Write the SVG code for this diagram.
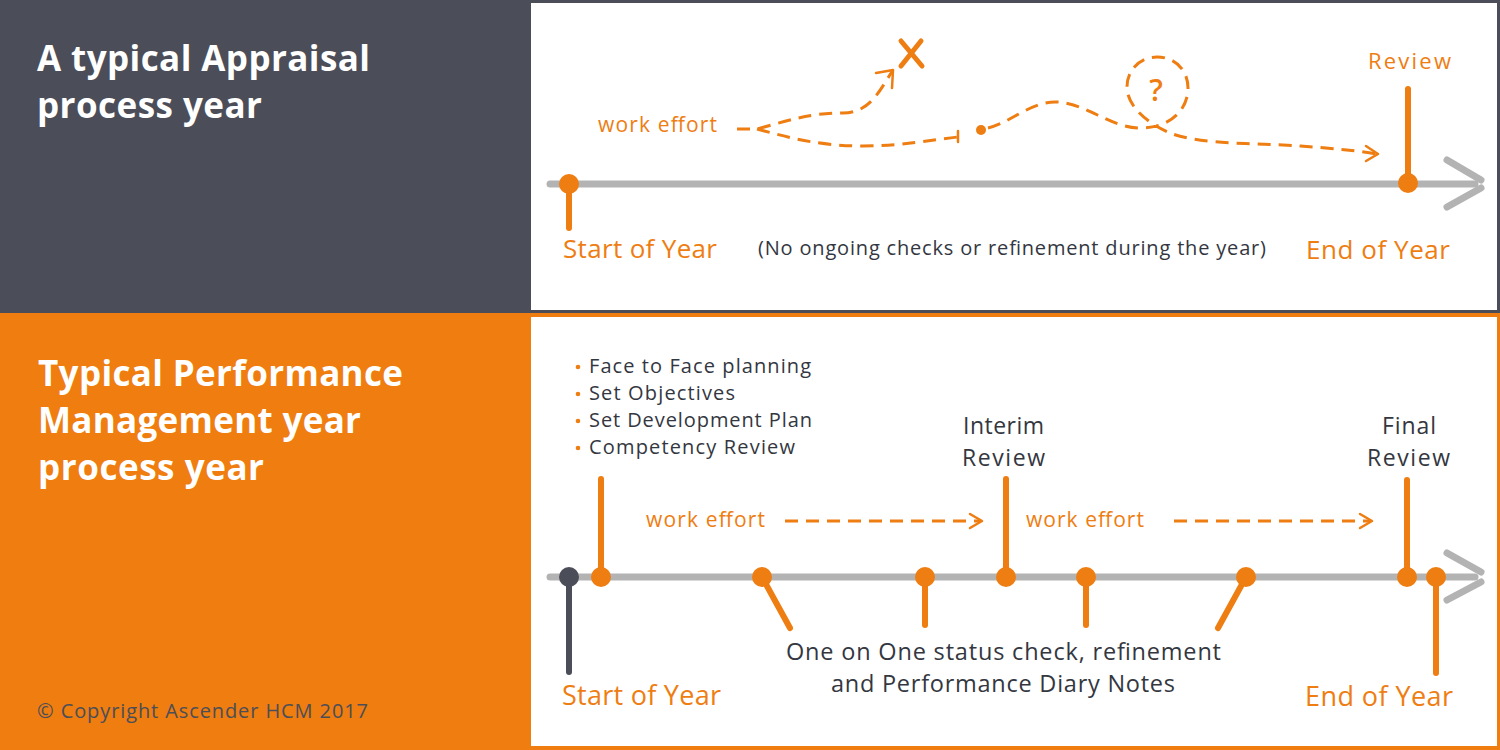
<svg xmlns="http://www.w3.org/2000/svg" width="1500" height="750" viewBox="0 0 1500 750">
<defs>
<style>
text{font-family:"Open Sans","Liberation Sans",sans-serif}
.title{font-weight:700;fill:#ffffff;font-size:35px}
.or{fill:#ee7d12}
.dk{fill:#34373f}
.axis{stroke:#b3b3b3;stroke-width:7;stroke-linecap:round;fill:none}
.stem{stroke:#ee7d12;stroke-width:6;stroke-linecap:round;fill:none}
.dash{stroke:#ee7d12;stroke-width:3;stroke-dasharray:13 8;fill:none;stroke-linecap:butt}
.head{stroke:#ee7d12;stroke-width:2.5;fill:none;stroke-linecap:round;stroke-linejoin:round}
.dot{fill:#ee7d12}
</style>
</defs>
<rect x="0" y="0" width="1500" height="313" fill="#4b4e58"/>
<rect x="0" y="313" width="1500" height="437" fill="#ef7d0f"/>
<rect x="531" y="3" width="966" height="307" fill="#ffffff"/>
<rect x="531" y="317" width="966" height="429" fill="#ffffff"/>

<g id="title-top">
<text class="title" x="37" y="71" textLength="333">A typical Appraisal</text>
<text class="title" x="37" y="118" textLength="225">process year</text>
</g>
<g id="title-bottom">
<text class="title" x="38" y="386" textLength="365">Typical Performance</text>
<text class="title" x="38" y="433" textLength="323">Management year</text>
<text class="title" x="38" y="480" textLength="226">process year</text>
</g>
<text x="37" y="718" font-size="20" fill="#4b4e58" textLength="331">© Copyright Ascender HCM 2017</text>

<!-- top timeline -->
<g id="top-axis">
<line class="axis" x1="550" y1="184" x2="1475" y2="184"/>
<polyline class="axis" points="1447,160 1481,180"/>
<polyline class="axis" points="1481,188 1447,207"/>
</g>
<g id="top-start">
<line class="stem" x1="569" y1="184" x2="569" y2="228"/>
<circle class="dot" cx="569" cy="184" r="10"/>
<text class="or" x="563" y="258" font-size="26" textLength="154">Start of Year</text>
</g>
<g id="top-end">
<line class="stem" x1="1408" y1="89" x2="1408" y2="184"/>
<circle class="dot" cx="1408" cy="183" r="10"/>
<text class="or" x="1368" y="69" font-size="22" textLength="83">Review</text>
<text class="or" x="1306" y="259" font-size="26" textLength="144">End of Year</text>
</g>
<text class="dk" x="758" y="255" font-size="20" textLength="508">(No ongoing checks or refinement during the year)</text>

<g id="top-connectors">
<text class="or" x="598" y="132" font-size="21" textLength="119">work effort</text>
<path class="dash" d="M737,129 L757,129 C790,120 810,113 843,113 C870,113 880,90 893,70"/>
<polyline class="head" points="876,73 893,70 892,88"/>
<path class="dash" d="M757,129 C790,138 820,146 863,146 C900,146 930,140 958,137"/>
<line class="head" x1="958" y1="131" x2="958" y2="142"/>
<circle class="dot" cx="981" cy="130" r="5"/>
<path class="dash" d="M988,128 C1010,123 1030,102 1055,102 C1085,102 1110,128 1140,128 C1170,128 1188,110 1188,88 C1188,70 1175,57 1157,57 C1140,57 1127,70 1127,87 C1127,105 1145,122 1170,133 C1200,145 1260,143 1300,146 C1330,148 1360,151 1377,154"/>
<polyline class="head" points="1366,146 1378,154 1366,161"/>
<g stroke="#ee7d12" stroke-width="5" stroke-linecap="round">
<line x1="901" y1="41" x2="922" y2="66"/>
<line x1="921" y1="41" x2="901" y2="66"/>
</g>
<text class="or" x="1156" y="101" font-size="30" font-weight="600" text-anchor="middle">?</text>
</g>

<!-- bottom timeline -->
<g id="bottom-axis">
<line class="axis" x1="550" y1="577" x2="1475" y2="577"/>
<polyline class="axis" points="1447,553 1481,572"/>
<polyline class="axis" points="1481,582 1447,600"/>
</g>
<g id="bottom-start">
<line x1="569" y1="577" x2="569" y2="672" stroke="#4b4e58" stroke-width="6" stroke-linecap="round"/>
<circle cx="569" cy="577" r="10" fill="#4b4e58"/>
<text class="or" x="562" y="705" font-size="27" textLength="159">Start of Year</text>
</g>
<g id="planning">
<line class="stem" x1="601" y1="479" x2="601" y2="577"/>
<circle class="dot" cx="601" cy="577" r="10"/>
<g class="dk" font-size="20">
<text x="589" y="373" textLength="222">Face to Face planning</text>
<text x="589" y="400" textLength="146">Set Objectives</text>
<text x="589" y="427" textLength="223">Set Development Plan</text>
<text x="589" y="454" textLength="206">Competency Review</text>
</g>
<circle class="dot" cx="578" cy="367" r="2.3"/>
<circle class="dot" cx="578" cy="394" r="2.3"/>
<circle class="dot" cx="578" cy="421" r="2.3"/>
<circle class="dot" cx="578" cy="448" r="2.3"/>
</g>
<g id="check1">
<line class="stem" x1="762" y1="577" x2="790" y2="628"/>
<circle class="dot" cx="762" cy="577" r="10"/>
</g>
<g id="check2">
<line class="stem" x1="925" y1="577" x2="925" y2="625"/>
<circle class="dot" cx="925" cy="577" r="10"/>
</g>
<g id="interim">
<line class="stem" x1="1006" y1="479" x2="1006" y2="577"/>
<circle class="dot" cx="1006" cy="577" r="10"/>
<text class="dk" x="963" y="434" font-size="23" textLength="81">Interim</text>
<text class="dk" x="962" y="466" font-size="23" textLength="83">Review</text>
</g>
<g id="check3">
<line class="stem" x1="1086" y1="577" x2="1086" y2="625"/>
<circle class="dot" cx="1086" cy="577" r="10"/>
</g>
<g id="check4">
<line class="stem" x1="1246" y1="577" x2="1218" y2="628"/>
<circle class="dot" cx="1246" cy="577" r="10"/>
</g>
<g id="final">
<line class="stem" x1="1407" y1="480" x2="1407" y2="577"/>
<circle class="dot" cx="1407" cy="577" r="10"/>
<text class="dk" x="1382" y="434" font-size="23" textLength="54">Final</text>
<text class="dk" x="1367" y="466" font-size="23" textLength="83">Review</text>
</g>
<g id="bottom-end">
<line class="stem" x1="1436" y1="577" x2="1436" y2="673"/>
<circle class="dot" cx="1436" cy="577" r="10"/>
<text class="or" x="1305" y="706" font-size="27" textLength="148">End of Year</text>
</g>
<g id="checks-label">
<text class="dk" x="786" y="660" font-size="23.5" textLength="435">One on One status check, refinement</text>
<text class="dk" x="831" y="692" font-size="23.5" textLength="344">and Performance Diary Notes</text>
</g>
<g id="bottom-connectors">
<text class="or" x="646" y="527" font-size="21" textLength="119">work effort</text>
<line class="dash" x1="785" y1="521" x2="980" y2="521"/>
<polyline class="head" points="970,514 982,521 970,528"/>
<text class="or" x="1026" y="527" font-size="21" textLength="118">work effort</text>
<line class="dash" x1="1174" y1="521" x2="1370" y2="521"/>
<polyline class="head" points="1360,514 1372,521 1360,528"/>
</g>
</svg>
